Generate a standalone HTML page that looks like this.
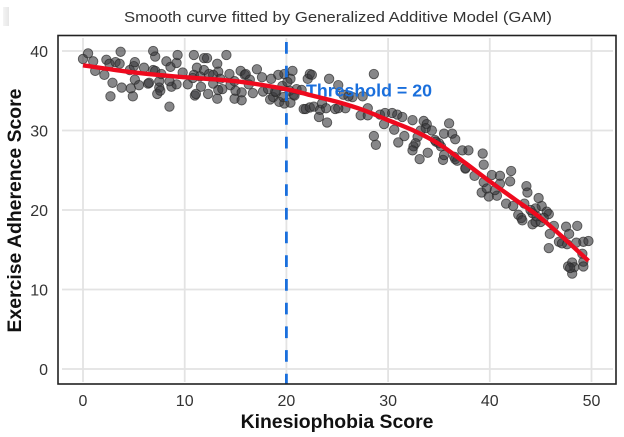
<!DOCTYPE html>
<html lang="en">
<head>
<meta charset="utf-8">
<title>Smooth curve fitted by GAM</title>
<style>
html,body{margin:0;padding:0;background:#fff;}
body{width:624px;height:437px;overflow:hidden;font-family:"Liberation Sans",Arial,sans-serif;}
svg{display:block;}
</style>
</head>
<body>
<svg id="chart" width="624" height="437" viewBox="0 0 624 437" xmlns="http://www.w3.org/2000/svg">
<defs><linearGradient id="smudge" x1="0" x2="1" y1="0" y2="0"><stop offset="0" stop-color="#f4f4f4"/><stop offset="1" stop-color="#e6e6e6"/></linearGradient></defs>
<rect width="624" height="437" fill="#fff"/>
<rect x="3" y="7" width="6" height="19" fill="url(#smudge)"/>
<text x="338" y="22" text-anchor="middle" font-size="14.6" fill="#333" textLength="428" lengthAdjust="spacingAndGlyphs">Smooth curve fitted by Generalized Additive Model (GAM)</text>
<g id="grid"></g>
<g id="ticks"></g>
<g id="points"></g>
<g id="overlay"></g>
<rect x="58" y="35.5" width="558" height="348.5" fill="none" stroke="#222" stroke-width="1.6"/>
<text x="337" y="428" text-anchor="middle" font-size="19.4" font-weight="bold" fill="#111">Kinesiophobia Score</text>
<text transform="translate(21,210.5) rotate(-90)" text-anchor="middle" font-size="19.4" font-weight="bold" fill="#111">Exercise Adherence Score</text>
</svg>
<script>
const xTicks = [0, 10, 20, 30, 40, 50];
const yTicks = [0, 10, 20, 30, 40];
const thresholdValue = 20;
const thresholdLabel = "Threshold = 20";
const curveX = [0, 5, 10, 15, 20, 22.5, 25, 27.5, 30, 32.5, 35, 37.5, 40, 42.5, 45, 47.5, 49.7];
const curveY = [38.2, 37.3, 36.7, 36.2, 35.2, 34.4, 33.6, 32.6, 31.3, 30.0, 28.3, 26.0, 23.6, 21.3, 19.0, 16.2, 13.6];
const kinesiophobia = [
0,0.5,1,1.2,2.1,2.3,2.6,2.9,2.7,3.2,3.6,3.7,3.8,4.7,4.9,4.6,5,5.1,5.1,5.5,6,6.4,6.9,7.1,6.9,7.1,7.5,7.3,7.6,7.7,
8.2,8.6,8.5,8.7,9.2,9.3,9.2,9.8,10.3,10.9,11.2,11.9,12.2,10.9,11,11.1,11.6,12.3,11.9,12.4,13.2,14.1,13.2,13.3,13.7,13.3,12.8,14.4,14.5,14.9,
15.6,15,15.5,15.9,16,15.6,16.7,16.4,17.1,17.7,17.6,18.5,18.4,18.7,19.2,19.8,20.6,20.4,19.6,19.3,19.8,20.4,20.7,20.1,21,21.5,21.7,21.9,22.1,22.3,
22.3,11.5,10.8,12.8,13.5,14.9,16.3,6.5,7.5,8.5,18.2,19,19.7,20.3,20.8,18.9,
22.5,24.2,25.1,28.6,27.5,26.5,26.1,25.6,22.7,23.2,23.3,24,23.5,23.9,24.8,25.8,25.1,27.3,28,28,28.6,28.8,29.2,29.7,30.4,30.9,31.4,32.4,29.6,30.6,
31.6,31,33.5,33.8,33.7,34.3,33.2,32.9,32.7,32.5,32.4,33.1,33.9,36,35.5,36.3,36.6,34.6,35.2,35.4,35.5,36.6,37.3,37.9,37.6,37.6,38.5,39.3,39.4,40.2,
41,42.1,42,39.4,39.2,39.7,39.9,40.7,40.5,41.6,42.3,43.6,43.7,44.8,45.1,45.8,42.8,43.4,44.2,44.5,43.1,41,43.2,44.2,46.3,47.5,48.6,47.8,45.9,46.8,
47.6,48.5,49.2,49.7,45.8,47.1,49.1,49.2,47.7,48.1,48.3,48.1,49.2,47.9,44.5,45,44.6,45.6,45.3,44,34.7,35,36.5,36.8
];
const adherence = [
39,39.7,38.7,37.5,37,38.9,38.4,36,34.3,38.6,38.4,39.9,35.4,35.3,34.3,37.6,38.1,38.6,36.4,35.7,37.9,35.9,40,39.3,37.6,37.5,35.4,34.6,35,37.1,
38.7,38,33,35.5,38.5,39.5,35.8,37.3,35.8,39.5,37.9,39.1,39.1,37,34.4,34.6,35.5,34.6,37.6,37.1,38.4,39.5,34,35.1,35.2,37.4,35.9,37.1,35.7,34,
33.8,35,37.5,37,37.1,34.8,34.7,36.4,37.7,34.9,36.7,36.5,33.9,34.2,37,37.1,37.5,36.5,35.6,33.6,33.4,33.5,34.5,36.1,35.2,35.1,32.7,32.7,36.5,37.1,
32.9,36.8,36.6,37,36.5,36.2,35.8,36,36.2,36.2,35.2,34.8,34.2,35,34.4,34.9,
37,36.5,35.7,37.1,34.3,34.2,34.3,34.5,33,31.7,32.6,31,33.4,32.8,32.7,32.8,32.8,31.9,32.8,31.9,29.3,28.2,32,32.2,32.2,32,31.7,31.3,30.8,30.1,
29.3,28.5,31.2,30.8,30.3,30,30,29.2,28.4,28,27.5,26.4,27.2,30.9,29.6,29.6,28.9,28.8,28,26.3,26.9,26.4,27.5,27.5,25.2,25.3,24.3,27.1,25.7,24.4,
24.3,24.9,23.6,23.5,22.2,22.7,21.7,21.8,22.5,20.8,20.5,23,22.2,21.5,20.5,19.5,19.4,20.8,19.6,20.2,19,23.3,18.7,18.2,18,17.9,18,17,17,16,
15.7,15.9,16,16.1,15.2,15.8,14.5,13.5,12.9,13.4,12.8,12,12.9,12.7,18.5,18.5,19.2,19.8,19,20,28.6,28.4,26.7,26.2
];

const SVG_NS = "http://www.w3.org/2000/svg";
function xScale(v) { return 83 + v * 10.17; }
function yScale(v) { return 369 - v * 7.95; }
function make(tag, attrs, parent) {
  const el = document.createElementNS(SVG_NS, tag);
  for (const k in attrs) el.setAttribute(k, attrs[k]);
  parent.appendChild(el);
  return el;
}
const gridG = document.getElementById("grid");
const ticksG = document.getElementById("ticks");
const pointsG = document.getElementById("points");
const overlayG = document.getElementById("overlay");

yTicks.forEach(function (t) {
  const line = make("line", {x1: 62, x2: 613, y1: yScale(t), y2: yScale(t), stroke: "#e3e3e3", "stroke-width": 1.8}, gridG);
  
  
  const label = make("text", {x: 48, y: yScale(t) + 6, "text-anchor": "end", "font-size": 16, fill: "#333"}, ticksG);
  
  
  label.textContent = t;
});
xTicks.forEach(function (t) {
  const line = make("line", {x1: xScale(t), x2: xScale(t), y1: 38, y2: 382, stroke: "#e3e3e3", "stroke-width": 1.8}, gridG);
  
  
  const label = make("text", {x: xScale(t), y: 406, "text-anchor": "middle", "font-size": 16, fill: "#333"}, ticksG);
  
  
  label.textContent = t;
});
kinesiophobia.forEach(function (k, i) {
  const dot = make("circle", {cx: xScale(k), cy: yScale(adherence[i]), r: 4.7, fill: "rgba(55,55,58,0.6)", stroke: "rgba(40,40,40,0.7)", "stroke-width": 0.9}, pointsG);
  
  
});
const threshold = make("line", {x1: xScale(thresholdValue), x2: xScale(thresholdValue), y1: 42, y2: 384, stroke: "#1a6fdc", "stroke-width": 2.8, "stroke-dasharray": "11.7 12"}, overlayG);


const thresholdText = make("text", {x: 306, y: 96.5, "font-size": 17.8, "font-weight": "bold", fill: "#1a6fdc"}, overlayG);


thresholdText.textContent = thresholdLabel;

let d = "M" + xScale(curveX[0]) + " " + yScale(curveY[0]);
for (let i = 0; i < curveX.length - 1; i++) {
  const p0 = i > 0 ? i - 1 : i, p3 = i + 2 < curveX.length ? i + 2 : i + 1;
  const x1 = xScale(curveX[i]), y1 = yScale(curveY[i]), x2 = xScale(curveX[i + 1]), y2 = yScale(curveY[i + 1]);
  const c1x = x1 + (x2 - xScale(curveX[p0])) / 6, c1y = y1 + (y2 - yScale(curveY[p0])) / 6;
  const c2x = x2 - (xScale(curveX[p3]) - x1) / 6, c2y = y2 - (yScale(curveY[p3]) - y1) / 6;
  d += " C" + c1x + " " + c1y + " " + c2x + " " + c2y + " " + x2 + " " + y2;
}
const curve = make("path", {d: d, fill: "none", stroke: "#ee0a1e", "stroke-width": 4.4}, overlayG);


</script>
</body>
</html>
